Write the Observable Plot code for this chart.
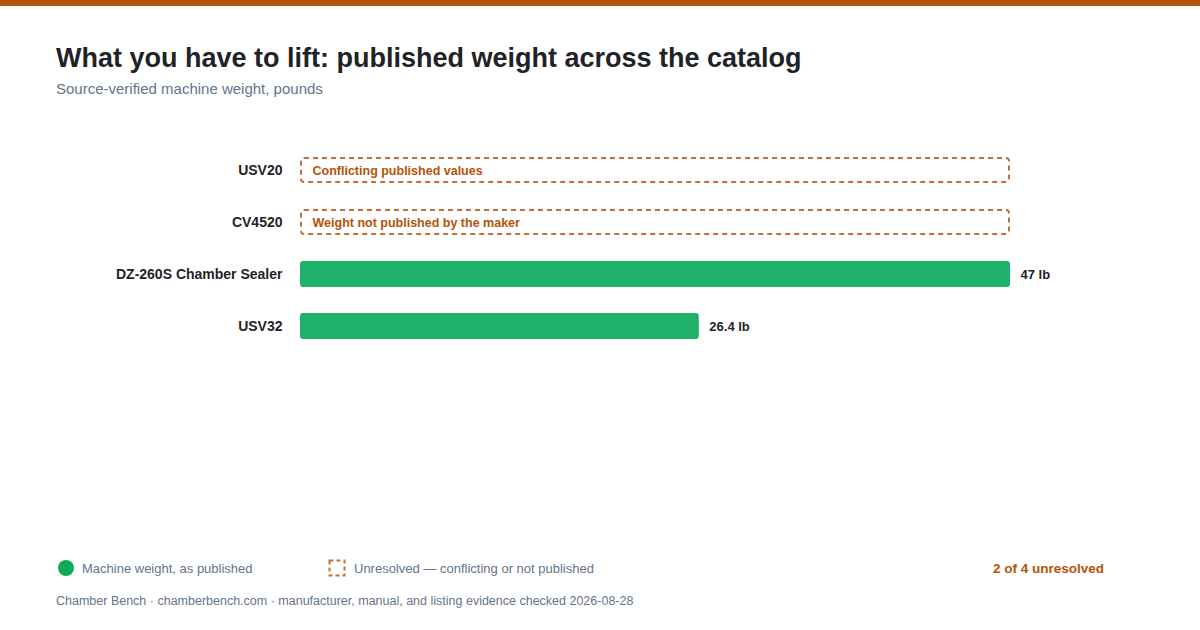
<!DOCTYPE html>
<html>
<head>
<meta charset="utf-8">
<script src="https://cdn.jsdelivr.net/npm/d3@7"></script>
<script src="https://cdn.jsdelivr.net/npm/@observablehq/plot@0.6"></script>
<style>
  html, body { margin: 0; padding: 0; background: #fff; }
  body { width: 1200px; height: 630px; position: relative; overflow: hidden;
         font-family: Helvetica, Arial, "Liberation Sans", sans-serif; }
  .topbar { position: absolute; left: 0; top: 0; width: 1200px; height: 6px; background: #b45309; }
  .title { position: absolute; left: 56px; top: 43px; font-size: 27px; font-weight: 700; color: #1f2328; white-space: nowrap; }
  .subtitle { position: absolute; left: 56px; top: 80px; font-size: 15px; color: #64748b; white-space: nowrap; }
  #chart { position: absolute; left: 0; top: 110px; }
  .legend { position: absolute; top: 561px; font-size: 13px; color: #64748b; white-space: nowrap; line-height: 16px; }
  .dot { position: absolute; left: 58px; top: 560px; width: 16px; height: 16px; border-radius: 50%; background: #10a957; }
  .dash { position: absolute; left: 328px; top: 559px; }
  .count { position: absolute; top: 561px; right: 96px; font-size: 13.5px; font-weight: 700; color: #b45309; line-height: 16px; }
  .footer { position: absolute; left: 56px; top: 593px; font-size: 12.5px; color: #64748b; white-space: nowrap; line-height: 16px; }
</style>
</head>
<body>
<div class="topbar"></div>
<div class="title">What you have to lift: published weight across the catalog</div>
<div class="subtitle">Source-verified machine weight, pounds</div>
<div id="chart"></div>
<div class="dot"></div>
<div class="legend" style="left:82px">Machine weight, as published</div>
<svg class="dash" width="18" height="18"><rect x="1.5" y="1.5" width="15" height="15" fill="none" stroke="#c2703a" stroke-width="2" stroke-dasharray="4,3"/></svg>
<div class="legend" style="left:354px">Unresolved — conflicting or not published</div>
<div class="count">2 of 4 unresolved</div>
<div class="footer">Chamber Bench · chamberbench.com · manufacturer, manual, and listing evidence checked 2026-08-28</div>
<script>
const models = ["USV20", "CV4520", "DZ-260S Chamber Sealer", "USV32"];
const weights = [null, null, 47, 26.4];
const notes = ["Conflicting published values", "Weight not published by the maker", null, null];
const unit = "lb";

const rows = models.map((m, i) => ({model: m, weight: weights[i], note: notes[i]}));
const resolved = rows.filter(d => d.weight != null);
const unresolved = rows.filter(d => d.weight == null);
const maxW = d3.max(weights);

const H = 300;
const chart = Plot.plot({
  width: 1200,
  height: H,
  marginLeft: 300,
  marginRight: 190,
  marginTop: 21,
  marginBottom: H - 21 - 234,
  style: {fontFamily: 'Helvetica, Arial, "Liberation Sans", sans-serif', background: "transparent"},
  x: {domain: [0, maxW], axis: null},
  y: {domain: models, padding: 0.5, label: null},
  marks: [
    Plot.axisY({tickSize: 0, tickPadding: 18, fontSize: 14, fontWeight: 700, fill: "#1f2328", label: null}),
    Plot.barX(unresolved, {y: "model", x1: 0, x2: () => maxW, fill: "none", stroke: "#c2703a",
      strokeWidth: 2, strokeDasharray: "5,4", rx: 3, inset: 1}),
    Plot.text(unresolved, {y: "model", x: 0, text: "note", dx: 12, textAnchor: "start",
      fontSize: 12.5, fontWeight: 700, fill: "#b45309"}),
    Plot.barX(resolved, {y: "model", x: "weight", fill: "#20b26b", rx: 3}),
    Plot.text(resolved, {y: "model", x: "weight", text: d => `${d.weight} ${unit}`, dx: 10,
      textAnchor: "start", fontSize: 13, fontWeight: 700, fill: "#1f2328"})
  ]
});
document.getElementById("chart").appendChild(chart);
</script>
</body>
</html>
